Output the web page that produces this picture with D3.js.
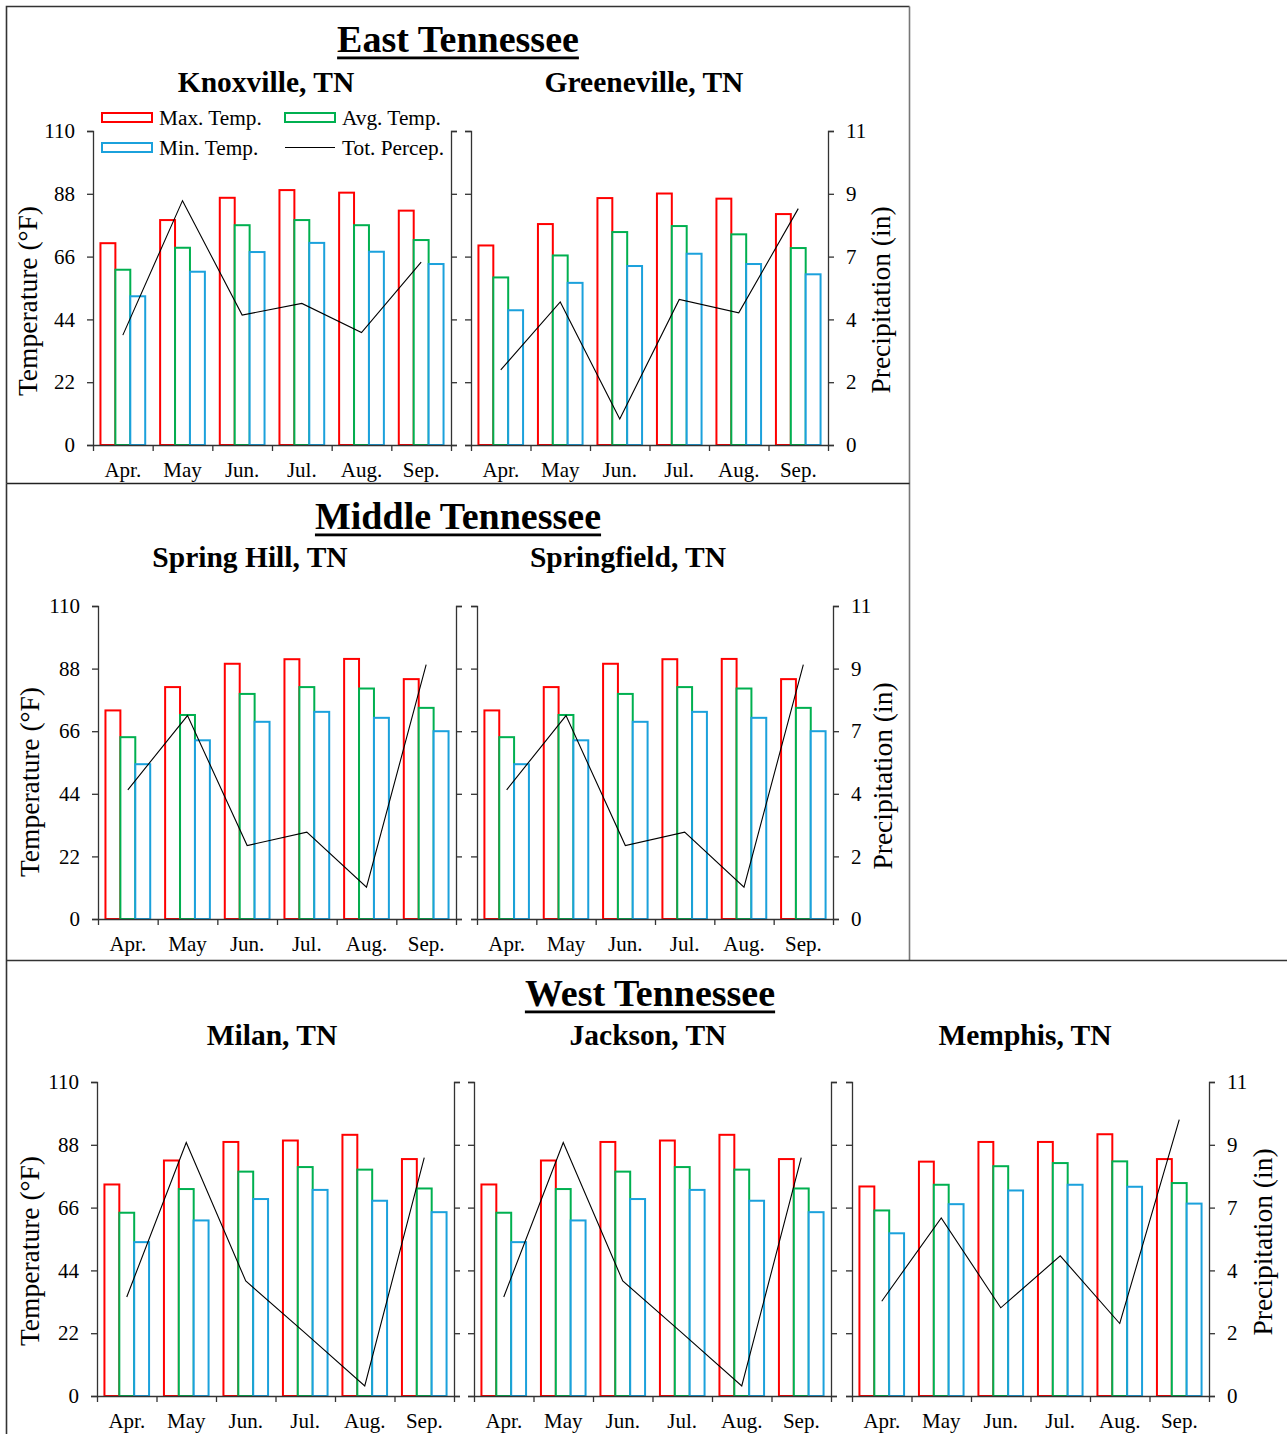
<!DOCTYPE html>
<html>
<head>
<meta charset="utf-8">
<script src="https://cdn.jsdelivr.net/npm/d3@7"></script>
<style>
  html, body { margin: 0; padding: 0; background: #fff; }
  svg { display: block; font-family: "Liberation Serif", "Times New Roman", serif; }
</style>
</head>
<body>
<svg id="chart" width="1287" height="1434"></svg>
<script>
// ---------------- data ----------------
const months = ["Apr.", "May", "Jun.", "Jul.", "Aug.", "Sep."];
const seriesNames = ["Max. Temp.", "Avg. Temp.", "Min. Temp."];
const precipName = "Tot. Percep.";
const tempTicks = [0, 22, 44, 66, 88, 110];
const precipTicks = [0, 2.2, 4.4, 6.6, 8.8, 11];
const precipTickLabels = ["0", "2", "4", "7", "9", "11"];
const sectionTitles = ["East Tennessee", "Middle Tennessee", "West Tennessee"];
const stationNames = ["Knoxville, TN", "Greeneville, TN", "Spring Hill, TN", "Springfield, TN", "Milan, TN", "Jackson, TN", "Memphis, TN"];

const knoxvilleMax = [70.7, 78.8, 86.6, 89.3, 88.4, 82.1];
const knoxvilleAvg = [61.4, 69.1, 77.0, 78.8, 77.0, 71.8];
const knoxvilleMin = [52.1, 60.7, 67.6, 70.8, 67.7, 63.4];
const knoxvillePrecip = [3.85, 8.56, 4.55, 4.96, 3.94, 6.41];

const greenevilleMax = [69.9, 77.4, 86.5, 88.1, 86.3, 80.9];
const greenevilleAvg = [58.7, 66.4, 74.6, 76.7, 73.8, 69.0];
const greenevilleMin = [47.2, 56.8, 62.7, 67.0, 63.4, 59.8];
const greenevillePrecip = [2.63, 5.01, 0.91, 5.10, 4.63, 8.28];

const springHillMax = [73.3, 81.5, 89.7, 91.3, 91.4, 84.3];
const springHillAvg = [63.9, 71.7, 79.1, 81.5, 81.0, 74.2];
const springHillMin = [54.4, 62.8, 69.3, 72.8, 70.7, 66.0];
const springHillPrecip = [4.54, 7.15, 2.58, 3.05, 1.12, 8.94];

const springfieldMax = [73.3, 81.5, 89.7, 91.3, 91.4, 84.3];
const springfieldAvg = [63.9, 71.7, 79.1, 81.5, 81.0, 74.2];
const springfieldMin = [54.4, 62.8, 69.3, 72.8, 70.7, 66.0];
const springfieldPrecip = [4.54, 7.15, 2.58, 3.05, 1.12, 8.94];

const milanMax = [74.1, 82.5, 89.0, 89.5, 91.5, 83.0];
const milanAvg = [64.2, 72.5, 78.6, 80.2, 79.3, 72.7];
const milanMin = [53.9, 61.5, 69.0, 72.2, 68.4, 64.4];
const milanPrecip = [3.47, 8.88, 4.03, 2.2, 0.35, 8.35];

const jacksonMax = [74.1, 82.5, 89.0, 89.5, 91.5, 83.0];
const jacksonAvg = [64.2, 72.5, 78.6, 80.2, 79.3, 72.7];
const jacksonMin = [53.9, 61.5, 69.0, 72.2, 68.4, 64.4];
const jacksonPrecip = [3.47, 8.88, 4.03, 2.2, 0.35, 8.35];

const memphisMax = [73.4, 82.1, 89.0, 89.0, 91.7, 83.0];
const memphisAvg = [65.0, 74.0, 80.5, 81.6, 82.2, 74.6];
const memphisMin = [57.0, 67.2, 72.0, 74.0, 73.3, 67.4];
const memphisPrecip = [3.32, 6.24, 3.09, 4.91, 2.54, 9.68];

// ---------------- styles / layout ----------------
const colors = ["#FF0000", "#00B050", "#1BA1DC"];
const axisColor = "#333";
const FONT = '"Liberation Serif", "Times New Roman", serif';

const panels = [
  { name: stationNames[0], max: knoxvilleMax, avg: knoxvilleAvg, min: knoxvilleMin, precip: knoxvillePrecip,
    x0: 93, x1: 451, top: 131, bottom: 445, tx: 266, ty: 92, leftLab: true, rightLab: false, legend: true, ytx: 37, yty: 301 },
  { name: stationNames[1], max: greenevilleMax, avg: greenevilleAvg, min: greenevilleMin, precip: greenevillePrecip,
    x0: 471, x1: 828, top: 131, bottom: 445, tx: 644, ty: 92, leftLab: false, rightLab: true, ptx: 890, pty: 300 },
  { name: stationNames[2], max: springHillMax, avg: springHillAvg, min: springHillMin, precip: springHillPrecip,
    x0: 98, x1: 456, top: 606, bottom: 919, tx: 250, ty: 567, leftLab: true, rightLab: false, ytx: 39, yty: 782 },
  { name: stationNames[3], max: springfieldMax, avg: springfieldAvg, min: springfieldMin, precip: springfieldPrecip,
    x0: 477, x1: 833, top: 606, bottom: 919, tx: 628, ty: 567, leftLab: false, rightLab: true, ptx: 892, pty: 776 },
  { name: stationNames[4], max: milanMax, avg: milanAvg, min: milanMin, precip: milanPrecip,
    x0: 97, x1: 454, top: 1082, bottom: 1396, tx: 272, ty: 1045, leftLab: true, rightLab: false, ytx: 39, yty: 1251 },
  { name: stationNames[5], max: jacksonMax, avg: jacksonAvg, min: jacksonMin, precip: jacksonPrecip,
    x0: 474, x1: 831, top: 1082, bottom: 1396, tx: 648, ty: 1045, leftLab: false, rightLab: false },
  { name: stationNames[6], max: memphisMax, avg: memphisAvg, min: memphisMin, precip: memphisPrecip,
    x0: 852, x1: 1209, top: 1082, bottom: 1396, tx: 1025, ty: 1045, leftLab: false, rightLab: true, ptx: 1272, pty: 1242 }
];

const svg = d3.select("#chart");

// ---------------- section frames ----------------
const frame = svg.append("g").attr("fill", "none");
frame.append("path").attr("d", "M6.5,483.5 L6.5,6.5 L909.5,6.5").attr("stroke", "#333").attr("stroke-width", 1.6);
frame.append("path").attr("d", "M909.5,6.5 L909.5,960.5").attr("stroke", "#777").attr("stroke-width", 1.6);
frame.append("path").attr("d", "M6.5,483.5 L909.5,483.5").attr("stroke", "#222").attr("stroke-width", 1.6);
frame.append("path").attr("d", "M6.5,483.5 L6.5,1434").attr("stroke", "#333").attr("stroke-width", 1.6);
frame.append("path").attr("d", "M6.5,960.5 L1287,960.5").attr("stroke", "#333").attr("stroke-width", 1.6);

// ---------------- section titles ----------------
const sectionPos = [{ x: 458, y: 52 }, { x: 458, y: 529 }, { x: 650, y: 1006 }];
sectionTitles.forEach((t, i) => {
  const txt = svg.append("text")
    .attr("x", sectionPos[i].x).attr("y", sectionPos[i].y)
    .attr("text-anchor", "middle")
    .attr("font-family", FONT).attr("font-weight", "bold").attr("font-size", 38)
    .attr("fill", "#000").text(t);
  const w = txt.node().getComputedTextLength();
  svg.append("rect")
    .attr("x", sectionPos[i].x - w / 2).attr("y", sectionPos[i].y + 4.5)
    .attr("width", w).attr("height", 2.8).attr("fill", "#000");
});

// ---------------- panels ----------------
panels.forEach(p => {
  const g = svg.append("g");
  const x = d3.scaleBand().domain(months).range([p.x0, p.x1]).padding(0);
  const bw = x.bandwidth();
  const xs = d3.scaleBand().domain(seriesNames).range([bw * 0.125, bw * 0.875]).padding(0);
  const y = d3.scaleLinear().domain([0, 110]).range([p.bottom, p.top]);
  const yp = d3.scaleLinear().domain([0, 11]).range([p.bottom, p.top]);

  // title
  g.append("text").attr("x", p.tx).attr("y", p.ty).attr("text-anchor", "middle")
    .attr("font-family", FONT).attr("font-weight", "bold").attr("font-size", 29.5).text(p.name);

  // bars
  const seriesVals = [p.max, p.avg, p.min];
  seriesNames.forEach((s, si) => {
    g.append("g").selectAll("rect").data(months).join("rect")
      .attr("x", m => x(m) + xs(s))
      .attr("y", (m, i) => y(seriesVals[si][i]))
      .attr("width", xs.bandwidth())
      .attr("height", (m, i) => y(0) - y(seriesVals[si][i]))
      .attr("fill", "#fff")
      .attr("stroke", colors[si])
      .attr("stroke-width", 2);
  });

  // precipitation line
  const line = d3.line().x((d, i) => x(months[i]) + bw / 2).y(d => yp(d));
  g.append("path").datum(p.precip).attr("d", line)
    .attr("fill", "none").attr("stroke", "#000").attr("stroke-width", 1.1);

  // left axis
  const la = g.append("g").attr("transform", `translate(${p.x0},0)`)
    .call(d3.axisLeft(y).tickValues(tempTicks).tickSize(6).tickPadding(12)
      .tickFormat(p.leftLab ? d3.format("d") : () => ""));
  // right axis
  const ra = g.append("g").attr("transform", `translate(${p.x1},0)`)
    .call(d3.axisRight(yp).tickValues(precipTicks).tickSize(6).tickPadding(12)
      .tickFormat(p.rightLab ? ((d, i) => precipTickLabels[i]) : () => ""));
  // bottom axis: boundary ticks
  const xl = d3.scaleLinear().domain([0, months.length]).range([p.x0, p.x1]);
  const ba = g.append("g").attr("transform", `translate(0,${p.bottom})`)
    .call(d3.axisBottom(xl).tickValues(d3.range(months.length + 1)).tickSize(6).tickFormat(() => "")
      .tickSizeOuter(0));
  [la, ra, ba].forEach(a => {
    a.selectAll(".domain").attr("stroke", axisColor).attr("stroke-width", 1.3);
    a.selectAll(".tick line").attr("stroke", axisColor).attr("stroke-width", 1.3);
    a.selectAll("text").attr("font-family", FONT).attr("font-size", 21).attr("fill", "#000");
  });
  // month labels
  g.append("g").selectAll("text").data(months).join("text")
    .attr("x", m => x(m) + bw / 2).attr("y", p.bottom + 32)
    .attr("text-anchor", "middle").attr("font-family", FONT).attr("font-size", 21).text(m => m);

  // axis titles
  if (p.ytx) {
    g.append("text").attr("transform", `translate(${p.ytx},${p.yty}) rotate(-90)`)
      .attr("text-anchor", "middle").attr("font-family", FONT).attr("font-size", 27.5).text("Temperature (°F)");
  }
  if (p.ptx) {
    g.append("text").attr("transform", `translate(${p.ptx},${p.pty}) rotate(-90)`)
      .attr("text-anchor", "middle").attr("font-family", FONT).attr("font-size", 27.5).text("Precipitation (in)");
  }

  // legend
  if (p.legend) {
    const lg = g.append("g");
    const items = [
      { lab: seriesNames[0], c: colors[0], x: 102, y: 113, type: "rect" },
      { lab: seriesNames[1], c: colors[1], x: 285, y: 113, type: "rect" },
      { lab: seriesNames[2], c: colors[2], x: 102, y: 143, type: "rect" },
      { lab: precipName, c: "#000", x: 285, y: 143, type: "line" }
    ];
    items.forEach(it => {
      if (it.type === "rect") {
        lg.append("rect").attr("x", it.x).attr("y", it.y).attr("width", 50).attr("height", 9)
          .attr("fill", "#fff").attr("stroke", it.c).attr("stroke-width", 2);
      } else {
        lg.append("line").attr("x1", it.x).attr("x2", it.x + 50).attr("y1", it.y + 4.5).attr("y2", it.y + 4.5)
          .attr("stroke", it.c).attr("stroke-width", 1.1);
      }
      lg.append("text").attr("x", it.x + 57).attr("y", it.y + 11.5)
        .attr("font-family", FONT).attr("font-size", 21.3).text(it.lab);
    });
  }
});
</script>
</body>
</html>
